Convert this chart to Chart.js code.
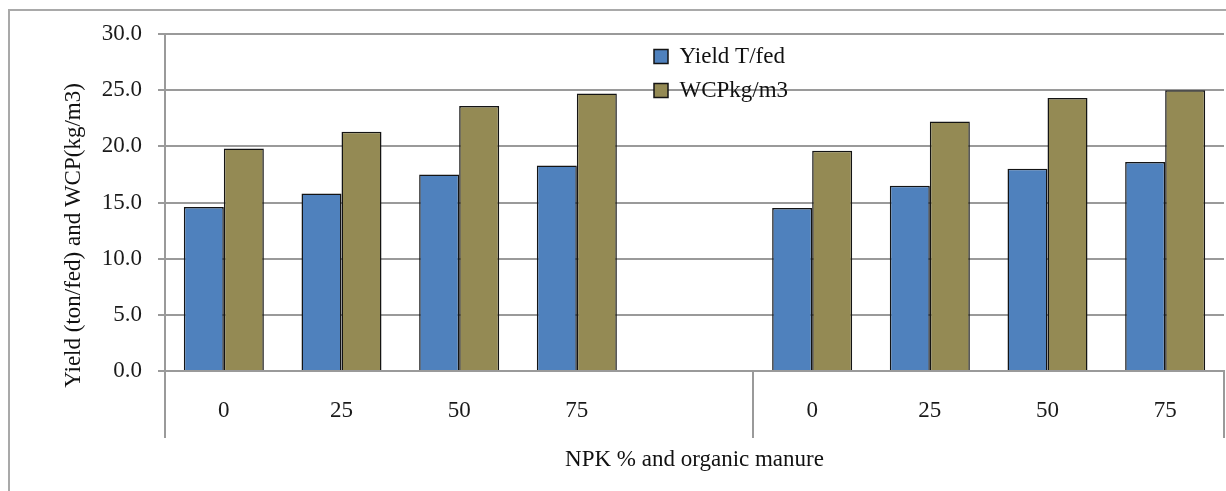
<!DOCTYPE html>
<html>
<head>
<meta charset="utf-8">
<script src="https://cdn.jsdelivr.net/npm/chart.js@4.4.1/dist/chart.umd.min.js"></script>
<style>
  html, body { margin: 0; padding: 0; background: #ffffff; }
  #wrap { position: relative; width: 1226px; height: 491px; overflow: hidden; }
  #frame { position: absolute; left: 8px; top: 9px; width: 1400px; height: 700px;
           border-left: 2px solid #a9a9a9; border-top: 2px solid #a9a9a9; }
  #c { position: absolute; left: 0; top: 0; }
</style>
</head>
<body>
<div id="wrap">
  <div id="frame"></div>
  <canvas id="c" width="1226" height="491"></canvas>
</div>
<script>
// ---- data ----
const categories = ["0", "25", "50", "75", "", "0", "25", "50", "75"];
const yieldValues = [14.6, 15.8, 17.5, 18.3, null, 14.5, 16.5, 18.0, 18.6];
const wcpValues   = [19.8, 21.3, 23.6, 24.7, null, 19.6, 22.2, 24.3, 25.0];
const seriesNames = ["Yield T/fed", "WCPkg/m3"];
const yTicks = [0, 5, 10, 15, 20, 25, 30];
const groupBoundaries = [0, 5, 9]; // category indexes where group separators are drawn

const FONT = "'Liberation Serif', 'Times New Roman', serif";
const GRID = "#9a9a9a";

const layoutTweaks = {
  id: 'layoutTweaks',
  afterLayout(chart) {
    const lg = chart.legend;
    if (lg) {
      const w = lg.width, h = lg.height;
      lg.left = 643; lg.top = 34;
      lg.right = lg.left + w; lg.bottom = lg.top + h;
    }
    const ys = chart.scales.y;
    if (ys && !ys._titlePatched) {
      const orig = ys.drawTitle;
      ys.drawTitle = function () {
        const t = this.top, b = this.bottom;
        this.top = t + 33; this.bottom = b + 33;
        orig.call(this);
        this.top = t; this.bottom = b;
      };
      ys._titlePatched = true;
    }
  }
};

new Chart(document.getElementById('c'), {
  type: 'bar',
  data: {
    labels: categories,
    datasets: [
      { label: seriesNames[0], data: yieldValues, backgroundColor: '#4F81BD',
        borderColor: '#141414', borderWidth: 1.5, borderSkipped: 'bottom' },
      { label: seriesNames[1], data: wcpValues, backgroundColor: '#948A54',
        borderColor: '#141414', borderWidth: 1.5, borderSkipped: 'bottom' }
    ]
  },
  options: {
    responsive: false,
    animation: false,
    events: [],
    layout: { padding: { left: 0, top: 34, right: 2, bottom: 0 } },
    datasets: { bar: { categoryPercentage: 0.68, barPercentage: 1.0 } },
    plugins: {
      tooltip: { enabled: false },
      legend: {
        position: 'chartArea',
        align: 'start',
        labels: {
          font: { family: FONT, size: 23 },
          color: '#111111',
          boxWidth: 14,
          boxHeight: 14,
          padding: 11
        }
      }
    },
    scales: {
      x: {
        offset: true,
        afterFit(scale) { scale.height = 120; },
        grid: {
          offset: true,
          drawOnChartArea: false,
          drawTicks: true,
          tickLength: 67,
          lineWidth: 2,
          color(ctx) {
            if (ctx.type !== 'tick') return GRID;
            return groupBoundaries.includes(ctx.index) ? GRID : 'rgba(0,0,0,0)';
          }
        },
        border: { display: true, color: GRID, width: 2 },
        ticks: {
          padding: -41,
          maxRotation: 0,
          autoSkip: false,
          color: '#1a1a1a',
          font: { family: FONT, size: 23 }
        },
        title: {
          display: true,
          text: 'NPK % and organic manure',
          color: '#111111',
          font: { family: FONT, size: 23 },
          padding: { top: 0, bottom: 17 }
        }
      },
      y: {
        min: 0,
        max: 30,
        afterFit(scale) { scale.width = 165; },
        afterBuildTicks(scale) { scale.ticks = yTicks.map(v => ({ value: v })); },
        grid: { color: GRID, lineWidth: 2, tickLength: 7, drawTicks: true },
        border: { display: true, color: GRID, width: 2 },
        ticks: {
          padding: 16,
          color: '#1a1a1a',
          font: { family: FONT, size: 23 },
          callback: (v) => Number(v).toFixed(1)
        },
        title: {
          display: true,
          text: 'Yield (ton/fed) and WCP(kg/m3)',
          color: '#111111',
          font: { family: FONT, size: 23 },
          padding: { top: 60, bottom: 0 }
        }
      }
    }
  },
  plugins: [layoutTweaks]
});
</script>
</body>
</html>
